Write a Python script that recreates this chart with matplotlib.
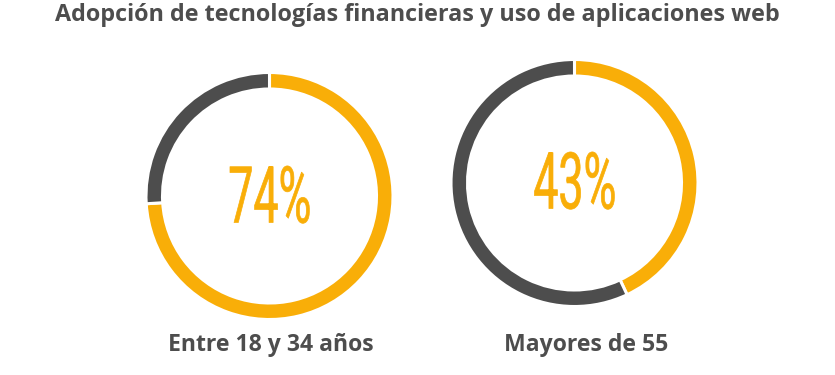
import matplotlib
matplotlib.use("Agg")
import matplotlib.pyplot as plt
from matplotlib import patheffects
from matplotlib.transforms import Affine2D

# ---- data ----
title = "Adopción de tecnologías financieras y uso de aplicaciones web"
groups = ["Entre 18 y 34 años", "Mayores de 55"]
adoption = [74, 43]          # percent adopting
pct_labels = ["74%", "43%"]

ORANGE = "#F9AE08"
DARK = "#4D4D4D"
W, H = 835, 375


class Condense(patheffects.AbstractPathEffect):
    """Horizontally condense (and slightly embolden) a text string."""
    def __init__(self, sx, lw=0.0, color="k"):
        super().__init__()
        self.sx = sx
        self.lw = lw
        self.color = color

    def draw_path(self, renderer, gc, tpath, affine, rgbFace=None):
        verts = affine.transform(tpath.vertices)
        cx = (verts[:, 0].min() + verts[:, 0].max()) / 2.0
        aff = affine + Affine2D().translate(-cx, 0).scale(self.sx, 1.0).translate(cx, 0)
        gc0 = renderer.new_gc()
        gc0.copy_properties(gc)
        if self.lw > 0:
            gc0.set_linewidth(self.lw)
            gc0.set_foreground(self.color)
            gc0.set_joinstyle("round")
        renderer.draw_path(gc0, tpath, aff, rgbFace)
        gc0.restore()


fig = plt.figure(figsize=(W / 100, H / 100), dpi=100)
ax = fig.add_axes([0, 0, 1, 1])


def py(y):
    # convert pixel-from-top to data y
    return H - y


centers = [(269.5, 196), (574.5, 183)]
label_x = [271, 586]
pct_base = [222.5, 208.5]

for i, (val, lab, pl) in enumerate(zip(adoption, groups, pct_labels)):
    cx, cy = centers[i]
    ax.pie([val, 100 - val], colors=[ORANGE, DARK], startangle=90,
           counterclock=False, center=(cx, py(cy)), radius=123.5,
           wedgeprops=dict(width=16.5, edgecolor="white", linewidth=2.2),
           frame=True)
    ax.text(cx + 1, py(pct_base[i]), pl, ha="center", va="baseline",
            fontsize=56.5, color=ORANGE, family="Roboto", fontweight="normal",
            path_effects=[Condense(0.57, lw=0.5, color=ORANGE)])
    ax.text(label_x[i], py(351), lab, ha="center", va="baseline",
            fontsize=16.6, color=DARK, family="Open Sans", fontweight="bold")

ax.set_xlim(0, W)
ax.set_ylim(0, H)
ax.set_aspect("equal")
ax.axis("off")

fig.text(417.5 / W, 1 - 21 / H, title, ha="center", va="baseline",
         fontsize=16.8, color=DARK, family="Open Sans", fontweight="bold")

fig.savefig("out.png", dpi=100)
